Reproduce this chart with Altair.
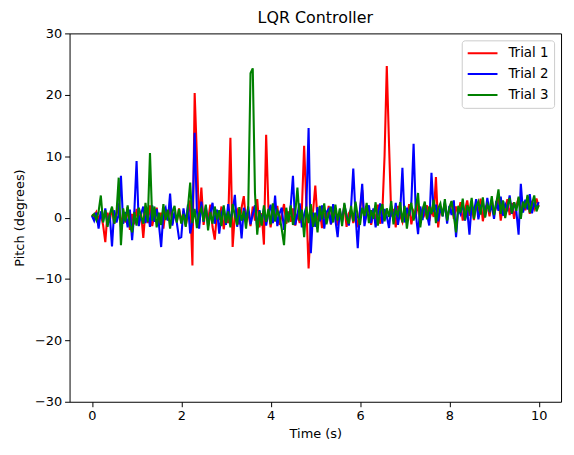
import altair as alt
import pandas as pd

dt = 0.05
trial1 = [
    0.5, 0.2, 0.9, -0.3, 0.6, -1.2, -4.0, 0.8, -0.5, 1.6,
    -1.0, 0.4, 2.3, -1.5, 0.9, -0.8, 1.7, -2.0, 0.6, -1.1,
    1.4, -0.7, 0.9, -3.3, 1.2, -0.9, 2.0, -1.4, 0.5, 1.6,
    -1.2, 0.8, -1.8, 1.3, -0.4, 1.9, -1.0, 0.7, -0.6, 1.5,
    -0.8, 1.1, -1.3, 0.6, 2.8, -7.8, 20.3, 10.0, -1.0, 4.9,
    -1.2, 1.5, -0.6, 2.1, -1.5, -3.6, 0.9, -0.4, 1.8, -1.9,
    0.6, -0.9, 13.0, -4.8, 0.5, 1.2, -1.1, 1.6, 3.5, -0.8,
    0.9, -1.4, 1.8, -0.5, 3.0, -1.6, 0.7, -4.4, 13.5, 1.8,
    -1.6, 0.8, -0.6, 1.9, -1.2, 0.4, 2.2, -1.0, 1.0, -0.7,
    1.5, -1.3, 0.6, -0.9, 1.4, 11.7, 2.0, -8.3, -1.0, 1.0,
    5.2, -0.5, 1.2, -1.7, 0.8, -0.6, 1.9, -1.1, 0.3, 1.4,
    -1.3, 0.9, -0.4, 2.0, -1.5, 0.7, 1.3, -0.9, 0.5, -1.6,
    1.1, 4.5, -0.8, 0.6, 1.7, -1.2, 0.9, -0.3, 2.1, -1.0,
    0.7, 10.0, 24.7, 12.0, 0.2, 1.4, -1.6, 1.9, 0.3, -0.7,
    1.5, -0.4, 2.2, -1.1, 1.0, 0.2, 2.4, -0.9, 1.3, 0.4,
    2.0, -0.6, 1.2, 0.1, 6.6, -1.6, 1.7, 0.5, 2.3, -0.3,
    1.4, 2.6, -0.2, 1.8, 0.6, 2.5, -0.5, 1.2, 2.8, 0.3,
    1.9, -0.4, 2.4, 0.8, 3.1, -0.6, 1.6, 2.2, 0.2, 2.9,
    0.5, 1.8, 3.3, -0.5, 2.0, 1.1, 3.0, 0.4, 2.4, -0.2,
    1.9, 3.2, 0.7, 2.5, 1.2, 3.4, 0.6, 2.7, 1.5, 3.1,
    1.8,
]
trial2 = [
    0.3, -0.5, 0.8, -1.8, 1.0, -0.6, 1.5, -1.2, 0.4, -4.7,
    1.2, -0.8, 0.5, 6.8, -1.0, 0.9, -1.6, 1.3, -3.7, 1.0,
    9.2, -1.4, 0.6, 1.8, -0.9, 1.2, -1.5, 2.0, -0.7, 1.4,
    -1.1, -4.8, 0.8, 1.6, -0.5, 3.9, -1.3, 1.0, -0.8, -3.4,
    -3.2, 1.5, -0.9, 2.1, -2.6, -0.5, 13.8, 1.0, -1.8, 2.6,
    -0.7, 1.9, -1.4, 0.8, 2.4, -1.0, 1.3, -2.6, 0.6, 1.7,
    -1.2, 2.2, -0.4, 1.0, 3.7, -1.5, 0.9, -3.4, 1.6, -0.3,
    1.8, -1.1, 0.5, 2.0, -1.7, 1.2, -0.6, 1.5, -1.3, 0.8,
    2.1, -0.9, 3.6, -1.4, 0.7, 1.6, -2.0, 0.9, -0.5, 1.9,
    6.8, -1.2, 0.6, 2.3, -1.6, 0.5, 1.8, 14.6, -5.8, 0.8,
    -1.5, 1.7, -0.6, 2.0, -1.8, 0.9, 1.4, -1.1, 2.2, -0.4,
    -3.2, 1.3, -0.8, 2.1, 0.4, -1.3, 1.6, 8.0, 0.5, -5.0,
    1.2, 5.5, -1.4, 0.8, 2.0, -0.9, 1.5, -1.6, 0.6, 2.3,
    -1.0, 1.4, 0.2, -1.7, 1.9, -0.5, 2.4, -1.2, 1.0, 8.1,
    -0.8, 1.6, 0.3, 2.5, 12.0, 0.6, -2.7, 1.8, -0.4, 2.2,
    0.5, -1.3, 7.3, 0.9, 2.1, -0.6, 1.7, 0.2, 2.6, -1.0,
    1.9, 0.4, 2.8, -3.2, 1.5, 0.6, 2.4, -0.5, 1.3, -2.8,
    2.2, 0.8, 3.0, -0.3, 1.7, 2.6, 0.1, 3.2, 0.9, 2.0,
    -0.2, 2.7, 1.1, 3.4, 0.3, 2.2, 1.4, 3.6, 0.6, 2.5,
    1.0, -2.8, 5.5, 0.8, 2.9, 1.3, 3.8, 0.7, 2.4, 1.6,
    2.5,
]
trial3 = [
    0.2, 0.6, -0.4, 1.0, 3.6, -0.8, 1.2, -1.5, 0.5, 1.8,
    -1.0, 0.7, 6.5, -4.5, 1.5, -0.6, 2.0, -1.2, -2.4, 0.9,
    -1.3, 1.6, 0.2, -1.0, 2.4, -0.7, 10.5, -0.5, 1.8, -1.6,
    0.8, -1.2, 2.2, -0.4, 1.3, -1.8, 0.9, 1.9, -0.8, 1.4,
    -1.0, 0.6, -1.5, 1.7, 5.7, -0.9, 1.4, -1.7, 0.7, 1.5,
    -0.6, 2.1, -2.1, 0.9, -1.0, 1.8, -0.3, 1.2, -1.4, 2.0,
    -0.9, 1.0, -1.6, 2.2, 0.3, -1.2, 1.7, -0.5, 1.1, -1.8,
    1.9, 23.5, 24.3, 4.0, -2.8, 1.0, -1.3, 2.0, -0.7, 1.4,
    -1.1, 2.3, -0.6, 1.1, 0.2, -1.9, -4.5, 1.6, -0.8, 2.0,
    -1.2, 0.6, 4.9, -0.5, 1.3, -3.2, 1.8, -0.9, 2.2, -1.5,
    0.8, -2.4, 1.9, -0.3, 2.3, -1.1, 0.6, 1.8, -0.8, 2.1,
    -0.5, 1.5, -1.4, 2.4, 0.1, -1.0, 1.9, -0.6, 2.6, 0.2,
    -1.2, 1.6, 0.3, 2.4, -0.9, 1.2, -0.2, 2.5, -1.3, 1.0,
    2.2, -0.6, 1.5, 0.1, 2.7, -1.1, 1.3, 0.4, 2.5, -0.8,
    1.9, -1.8, 0.9, 2.4, -0.5, 1.6, 4.0, -1.6, 1.2, 2.6,
    -0.3, 1.8, 0.6, 2.9, -0.9, 1.5, 2.3, 0.2, 3.0, -0.5,
    1.6, 2.7, 0.3, -2.4, 1.9, 0.8, 3.1, -0.4, 2.0, 1.0,
    3.2, -0.2, 1.8, 2.6, 0.5, 3.3, 0.0, 2.1, 1.2, 3.5,
    0.4, 2.3, 4.6, 0.6, 2.8, -0.1, 1.9, 3.2, 0.7, 2.5,
    1.1, 3.4, -0.2, 2.6, 1.5, 3.7, 0.8, 2.2, 3.6, 1.0,
    2.0,
]
labels = ["Trial 1", "Trial 2", "Trial 3"]
colors = ["#ff0000", "#0000ff", "#008000"]
x_ticks = [0, 2, 4, 6, 8, 10]
y_ticks = [-30, -20, -10, 0, 10, 20, 30]

rows = []
for name, series in zip(labels, [trial1, trial2, trial3]):
    for i, v in enumerate(series):
        rows.append({"t": round(i * dt, 2), "pitch": v, "trial": name})
df = pd.DataFrame(rows)

FONT = "DejaVu Sans"

chart = (
    alt.Chart(df)
    .mark_line(strokeWidth=2.1)
    .encode(
        x=alt.X(
            "t:Q",
            scale=alt.Scale(domain=[-0.5, 10.5], nice=False, zero=False),
            axis=alt.Axis(values=x_ticks, title="Time (s)", format="d"),
        ),
        y=alt.Y(
            "pitch:Q",
            scale=alt.Scale(domain=[-30, 30], nice=False),
            axis=alt.Axis(values=y_ticks, title="Pitch (degrees)", format="d"),
        ),
        color=alt.Color(
            "trial:N",
            scale=alt.Scale(domain=labels, range=colors),
            legend=alt.Legend(title=None),
        ),
        order=alt.Order("t:Q"),
    )
    .properties(
        width=495,
        height=371,
        title=alt.Title("LQR Controller", fontSize=16, fontWeight="normal",
                        font=FONT, color="black", offset=1),
        autosize=alt.AutoSizeParams(type="none"),
        padding={"left": 62, "top": 24, "right": 5, "bottom": 45},
    )
    .configure_view(stroke="black", strokeWidth=1)
    .configure_axis(
        grid=False,
        domain=False,
        tickColor="black",
        tickSize=5,
        tickWidth=1,
        labelColor="black",
        labelFont=FONT,
        labelFontSize=13,
        labelPadding=3,
        titleFont=FONT,
        titleFontSize=13,
        titleFontWeight="normal",
        titleColor="black",
    )
    .configure_axisX(titlePadding=5)
    .configure_axisY(titlePadding=8)
    .configure_legend(
        orient="top-right",
        offset=7,
        padding=5,
        strokeColor="#cccccc",
        fillColor="white",
        cornerRadius=3,
        symbolType="stroke",
        symbolSize=900,
        symbolStrokeWidth=2,
        clipHeight=16,
        labelFont=FONT,
        labelFontSize=13.5,
        labelColor="black",
        labelOffset=10,
        rowPadding=5,
    )
)

chart.save("out.html", embed_options={"renderer": "svg", "actions": False})
